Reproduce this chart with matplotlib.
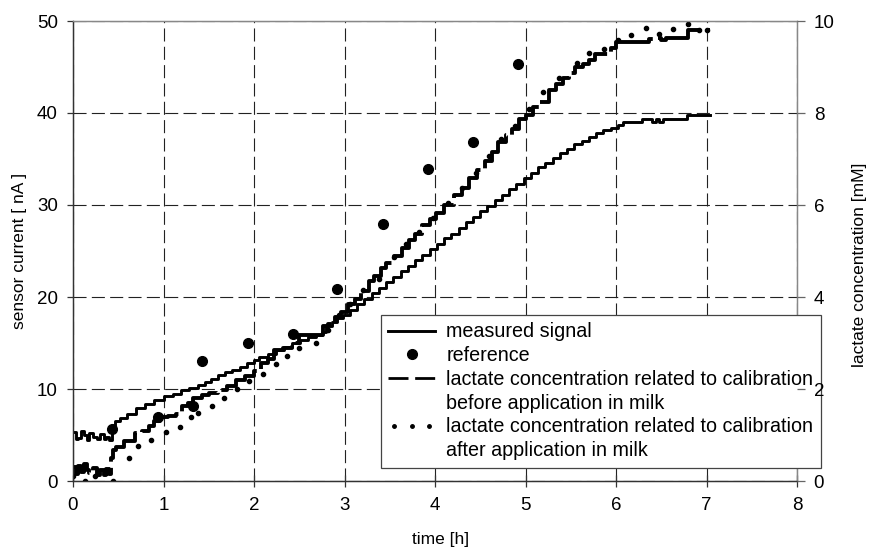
import matplotlib
matplotlib.use("Agg")
import matplotlib.pyplot as plt
from matplotlib.lines import Line2D
from matplotlib.legend_handler import HandlerLine2D

plt.rcParams['font.family'] = ['Liberation Sans', 'DejaVu Sans']

# measured sensor current [nA]
t_meas = [0.00, 0.03, 0.06, 0.09, 0.12, 0.15, 0.18, 0.22, 0.26, 0.30, 0.34, 0.37,
          0.40, 0.43, 0.46, 0.52, 0.60, 0.70, 0.80, 0.90, 1.00, 1.10, 1.19, 1.28,
          1.38, 1.46, 1.52, 1.60, 1.68, 1.76, 1.84, 1.92, 2.00, 2.06, 2.15, 2.24,
          2.33, 2.42, 2.51, 2.60, 2.68, 2.75, 2.80, 2.86, 2.92, 2.98, 3.06, 3.14,
          3.22, 3.30, 3.38, 3.46, 3.54, 3.62, 3.70, 3.78, 3.86, 3.94, 4.02, 4.10,
          4.18, 4.26, 4.34, 4.42, 4.50, 4.58, 4.66, 4.74, 4.82, 4.90, 4.98, 5.06,
          5.14, 5.22, 5.30, 5.38, 5.46, 5.54, 5.62, 5.70, 5.78, 5.86, 5.94, 6.02,
          6.08, 6.29, 6.40, 6.44, 6.48, 6.52, 6.56, 6.79, 7.04]
i_meas = [5.3, 4.6, 4.7, 5.4, 5.0, 4.5, 5.2, 4.8, 4.6, 5.1, 4.6, 4.8,
          4.5, 5.6, 6.5, 6.8, 7.3, 7.9, 8.4, 8.8, 9.2, 9.5, 9.9, 10.1,
          10.4, 10.8, 11.1, 11.5, 11.8, 12.1, 12.4, 12.8, 13.1, 13.5, 13.8, 14.2,
          14.6, 15.0, 15.3, 15.6, 15.9, 16.2, 16.8, 17.3, 17.7, 18.0, 18.6, 19.2,
          19.8, 20.4, 21.0, 21.6, 22.2, 22.8, 23.4, 24.0, 24.6, 25.2, 25.8, 26.4,
          26.9, 27.5, 28.1, 28.7, 29.3, 29.9, 30.5, 31.1, 31.7, 32.3, 32.9, 33.5,
          34.1, 34.6, 35.1, 35.6, 36.1, 36.6, 37.0, 37.4, 37.8, 38.1, 38.4, 38.7,
          39.0, 39.3, 39.0, 39.3, 39.0, 39.3, 39.3, 39.8, 39.8]

# lactate, calibration before application in milk [mM]
t_before = [0.00, 0.03, 0.06, 0.09, 0.12, 0.15, 0.18, 0.22, 0.26, 0.30, 0.34, 0.37,
            0.40, 0.42, 0.44, 0.47, 0.56, 0.68, 0.76, 0.84, 0.90, 0.96, 1.05, 1.14,
            1.20, 1.27, 1.33, 1.42, 1.50, 1.60, 1.70, 1.80, 1.90, 2.00, 2.08, 2.16,
            2.22, 2.32, 2.42, 2.50, 2.62, 2.76, 2.82, 2.90, 2.96, 3.04, 3.12, 3.18,
            3.27, 3.33, 3.40, 3.46, 3.55, 3.63, 3.71, 3.78, 3.86, 3.94, 4.01, 4.10,
            4.21, 4.30, 4.38, 4.46, 4.55, 4.63, 4.70, 4.78, 4.85, 4.93, 5.00, 5.08,
            5.15, 5.26, 5.34, 5.41, 5.48, 5.55, 5.63, 5.70, 5.77, 5.92, 5.94, 6.00,
            6.29, 6.36, 6.45, 6.50, 6.55, 6.78, 6.80, 7.04]
c_before = [0.30, 0.16, 0.32, 0.20, 0.36, 0.24, 0.18, 0.28, 0.14, 0.24, 0.12, 0.26,
            0.16, 0.50, 0.68, 0.74, 0.88, 1.04, 1.08, 1.20, 1.30, 1.40, 1.42, 1.46,
            1.62, 1.70, 1.80, 1.86, 1.92, 1.98, 2.06, 2.20, 2.28, 2.40, 2.56, 2.66,
            2.84, 2.90, 3.00, 3.18, 3.18, 3.36, 3.42, 3.56, 3.68, 3.84, 3.96, 4.12,
            4.34, 4.46, 4.64, 4.74, 4.90, 5.06, 5.24, 5.38, 5.56, 5.70, 5.82, 6.00,
            6.22, 6.38, 6.58, 6.76, 6.96, 7.16, 7.36, 7.52, 7.66, 7.86, 7.96, 8.12,
            8.24, 8.50, 8.64, 8.76, 8.88, 9.00, 9.06, 9.16, 9.28, 9.32, 9.42, 9.54,
            9.54, 9.60, 9.64, 9.58, 9.64, 9.64, 9.80, 9.80]

# lactate, calibration after application in milk [mM]
t_after = [0.00, 0.13, 0.24, 0.44, 0.62, 0.72, 0.86, 1.03, 1.18, 1.30, 1.38, 1.54,
           1.67, 1.81, 1.95, 2.10, 2.24, 2.36, 2.50, 2.68, 2.82, 2.94, 3.06, 3.20,
           3.38, 3.55, 3.68, 3.82, 3.98, 4.14, 4.30, 4.45, 4.60, 4.73, 4.88, 5.04,
           5.19, 5.37, 5.57, 5.70, 5.87, 6.02, 6.17, 6.33, 6.48, 6.63, 6.80, 6.92,
           7.00]
c_after = [0.10, 0.00, 0.10, 0.00, 0.50, 0.76, 0.90, 1.06, 1.18, 1.40, 1.48, 1.62,
           1.80, 2.00, 2.18, 2.32, 2.54, 2.72, 2.90, 3.00, 3.28, 3.60, 3.84, 4.16,
           4.40, 4.86, 5.16, 5.42, 5.72, 6.04, 6.36, 6.70, 7.06, 7.44, 7.72, 8.08,
           8.46, 8.76, 9.08, 9.30, 9.40, 9.58, 9.70, 9.84, 9.72, 9.82, 9.94, 9.80,
           9.80]

# reference lactate [mM]
t_ref = [0.43, 0.94, 1.33, 1.43, 1.93, 2.43, 2.92, 3.42, 3.92, 4.42, 4.92]
c_ref = [1.12, 1.40, 1.62, 2.60, 3.00, 3.20, 4.18, 5.58, 6.78, 7.36, 9.06]

fig = plt.figure(figsize=(8.69, 5.5), dpi=100)
ax = fig.add_axes([73 / 869, 69 / 550, 724 / 869, 460 / 550])
ax2 = ax.twinx()

ax.set_xlim(0, 8)
ax.set_ylim(0, 50)
ax2.set_ylim(0, 10)
ax.set_xticks(range(0, 9))
ax.set_yticks(range(0, 51, 10))
ax2.set_yticks(range(0, 11, 2))

gl = 0.8
ax.grid(True, color='#222222', lw=gl, linestyle=(0, (9.4 / gl, 3.8 / gl)))
ax.set_axisbelow(True)

ax.plot(t_meas, i_meas, color='black', lw=2.1, drawstyle='steps-post')
ax2.plot(t_before, c_before, color='black', lw=2.8, drawstyle='steps-post',
         dashes=(14, 1.6), dash_capstyle='butt')
ax2.plot(t_after, c_after, color='black', ls='none', marker='o', ms=3)
ax2.plot(t_ref, c_ref, color='black', ls='none', marker='o', ms=7)

for a in (ax, ax2):
    a.spines['top'].set_color('#888888')
    a.spines['right'].set_color('#888888')
    a.spines['left'].set_color('#333333')
    a.spines['bottom'].set_color('#333333')
    for s in a.spines.values():
        s.set_linewidth(0.9)

ax.tick_params(axis='y', direction='out', length=4, width=0.9, pad=7,
               labelsize=13.5, color='#333333')
ax.tick_params(axis='x', direction='inout', length=9, width=0.9, pad=7,
               labelsize=13.5, color='#333333')
ax2.tick_params(axis='y', direction='out', length=6, width=0.9, pad=6,
                labelsize=13.5, color='#666666')

ax.set_xlabel('time [h]', fontsize=12.5)
ax.set_ylabel('sensor current [ nA ]', fontsize=12.5)
ax2.set_ylabel('lactate concentration [mM]', fontsize=12.5)
ax.xaxis.set_label_coords(0.507, -0.11)
ax.yaxis.set_label_coords(-0.064, 0.5)
ax2.yaxis.set_label_coords(1.076, 0.47)

h_meas = Line2D([], [], color='black', lw=2.1)
h_ref = Line2D([], [], color='black', ls='none', marker='o', ms=7)
h_before = Line2D([], [], color='black', lw=2, dashes=(7.2, 2.4), dash_capstyle='butt')
h_after = Line2D([], [], color='black', ls='none', marker='o', ms=2.5)
h_blank = Line2D([], [], color='none')

# legend covers the right spine, but the right tick labels stay on top
leg = ax2.legend(
    [h_meas, h_ref, h_before, h_blank, h_after, h_blank],
    ['measured signal', 'reference',
     'lactate concentration related to calibration', 'before application in milk',
     'lactate concentration related to calibration', 'after application in milk'],
    handler_map={h_after: HandlerLine2D(numpoints=3)},
    loc='upper left', bbox_to_anchor=(381 / 869, 1 - 315 / 550),
    bbox_transform=fig.transFigure,
    fontsize=14.2, labelspacing=0.24, borderpad=0.38, handlelength=2.37,
    handletextpad=0.56, borderaxespad=0, fancybox=False, framealpha=1,
    edgecolor='#444444', numpoints=1)
leg.get_frame().set_linewidth(0.9)
leg.set_zorder(2.8)
ax2.yaxis.set_zorder(3)

fig.savefig('out.png', dpi=100)
